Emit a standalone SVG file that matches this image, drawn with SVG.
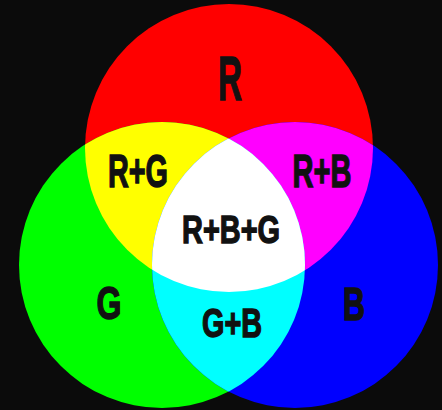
<svg xmlns="http://www.w3.org/2000/svg" width="442" height="410" viewBox="0 0 442 410">
  <style>
    .lbl { font-family: "Liberation Sans", Arial, sans-serif; font-weight: bold; fill: #111; stroke: #111; stroke-width: 1.4; stroke-linejoin: miter; text-anchor: middle; }
  </style>
  <defs>
    <clipPath id="cR"><circle cx="229" cy="148" r="144"/></clipPath>
    <clipPath id="cG"><circle cx="162" cy="265" r="143"/></clipPath>
  </defs>
  <rect width="442" height="410" fill="#0b0b0b"/>
  <g id="red"><circle cx="229" cy="148" r="144" fill="#ff0000"/></g>
  <g id="green"><circle cx="162" cy="265" r="143" fill="#00ff00"/></g>
  <g id="blue"><circle cx="295" cy="265" r="143" fill="#0000ff"/></g>
  <g id="red-green" clip-path="url(#cR)"><circle cx="162" cy="265" r="143" fill="#ffff00"/></g>
  <g id="red-blue" clip-path="url(#cR)"><circle cx="295" cy="265" r="143" fill="#ff00ff"/></g>
  <g id="green-blue" clip-path="url(#cG)"><circle cx="295" cy="265" r="143" fill="#00ffff"/></g>
  <g id="white" clip-path="url(#cR)"><g clip-path="url(#cG)"><circle cx="295" cy="265" r="143" fill="#ffffff"/></g></g>
  <g id="labels">
    <text class="lbl" x="230" y="100" font-size="63" textLength="24" lengthAdjust="spacingAndGlyphs">R</text>
    <text class="lbl" x="138" y="187" font-size="46" textLength="60" lengthAdjust="spacingAndGlyphs">R+G</text>
    <text class="lbl" x="322" y="187" font-size="46" textLength="59" lengthAdjust="spacingAndGlyphs">R+B</text>
    <text class="lbl" x="231" y="243" font-size="39" textLength="98" lengthAdjust="spacingAndGlyphs">R+B+G</text>
    <text class="lbl" x="109" y="319" font-size="46" textLength="25" lengthAdjust="spacingAndGlyphs">G</text>
    <text class="lbl" x="232" y="337" font-size="40" textLength="60" lengthAdjust="spacingAndGlyphs">G+B</text>
    <text class="lbl" x="354" y="320" font-size="46" textLength="22" lengthAdjust="spacingAndGlyphs">B</text>
  </g>
</svg>
